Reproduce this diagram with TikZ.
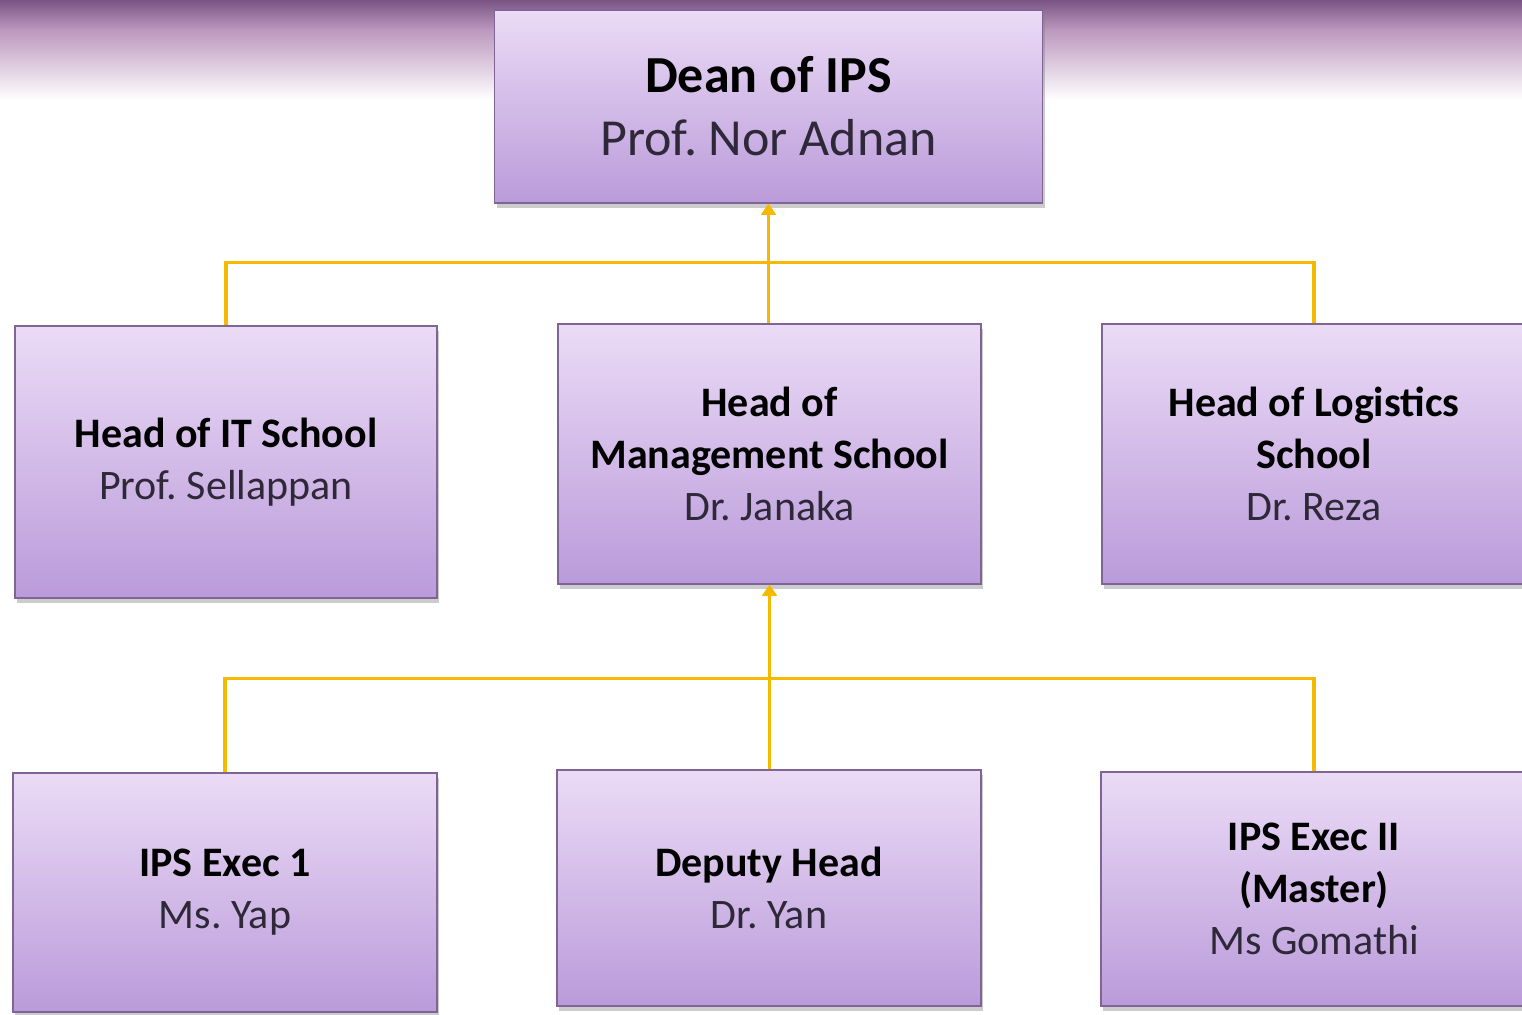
\documentclass[tikz,border=0pt]{standalone}
\usepackage{fontspec}
\setmainfont{Carlito}
\usetikzlibrary{shadows,arrows.meta,calc}
\definecolor{boxtop}{HTML}{EBDBF6}
\definecolor{boxbot}{HTML}{BA9BDA}
\definecolor{boxline}{HTML}{7F6596}
\definecolor{conn}{HTML}{F5BA00}
\definecolor{nametxt}{HTML}{2E2838}
\definecolor{bandtop}{HTML}{7A5584}
\definecolor{bandmid}{HTML}{BC98BE}
\tikzset{
  orgbox/.style={draw=boxline, line width=1.5pt, top color=boxtop, bottom color=boxbot,
    align=center, inner sep=0pt, text=black,
    drop shadow={opacity=0.4, shadow xshift=2pt, shadow yshift=-5pt}},
  bigtxt/.style={font=\fontsize{52}{63}\selectfont},
  midtxt/.style={font=\fontsize{42}{52}\selectfont},
  connline/.style={draw=conn, line width=3.2pt},
  up/.style={-{Triangle[width=14pt,length=11pt]}}
}
\newcommand{\nm}[1]{\textcolor{nametxt}{#1}}
\frenchspacing
\begin{document}
\begin{tikzpicture}[x=1pt,y=-1pt]
\useasboundingbox (0,0) rectangle (1522,1014);
\fill[white] (0,0) rectangle (1522,1014);
\shade[top color=bandtop, bottom color=bandmid] (0,0) rectangle (1522,30);
\shade[top color=bandmid, bottom color=white] (0,30) rectangle (1522,100);

\node[orgbox, bigtxt, minimum width=548pt, minimum height=193pt] (dean) at (768.5,106.5)
  {\textbf{Dean of IPS}\\\nm{Prof. Nor Adnan}};

\node[orgbox, midtxt, minimum width=422pt, minimum height=272pt] (it) at (226,462)
  {\textbf{Head of IT School}\\\nm{Prof. Sellappan}};
\node[orgbox, midtxt, minimum width=423pt, minimum height=260pt] (mg) at (769.5,454)
  {\textbf{Head of}\\\textbf{Management School}\\\nm{Dr. Janaka}};
\node[orgbox, midtxt, minimum width=424pt, minimum height=260pt] (lg) at (1314,454)
  {\textbf{Head of Logistics}\\\textbf{School}\\\nm{Dr. Reza}};

\node[orgbox, midtxt, minimum width=424pt, minimum height=239pt] (ex1) at (225,892.5)
  {\textbf{IPS Exec 1}\\\nm{Ms. Yap}};
\node[orgbox, midtxt, minimum width=424pt, minimum height=236pt] (dep) at (769,888)
  {\textbf{Deputy Head}\\\nm{Dr. Yan}};
\node[orgbox, midtxt, minimum width=426pt, minimum height=234pt] (ex2) at (1314,889)
  {\textbf{IPS Exec II}\\\textbf{(Master)}\\\nm{Ms Gomathi}};

\coordinate (j1) at ($(dean.south)+(0,59)$);
\coordinate (j2) at ($(mg.south)+(0,94)$);

\draw[connline, up] (it.north) |- (j1) -- (dean.south);
\draw[connline, up] (lg.north) |- (j1) -- (dean.south);
\draw[connline, up] (mg.north -| j1) -- (dean.south);

\draw[connline, up] (ex1.north) |- (j2) -- (mg.south);
\draw[connline, up] (ex2.north) |- (j2) -- (mg.south);
\draw[connline, up] (dep.north -| j2) -- (mg.south);
\end{tikzpicture}
\end{document}
